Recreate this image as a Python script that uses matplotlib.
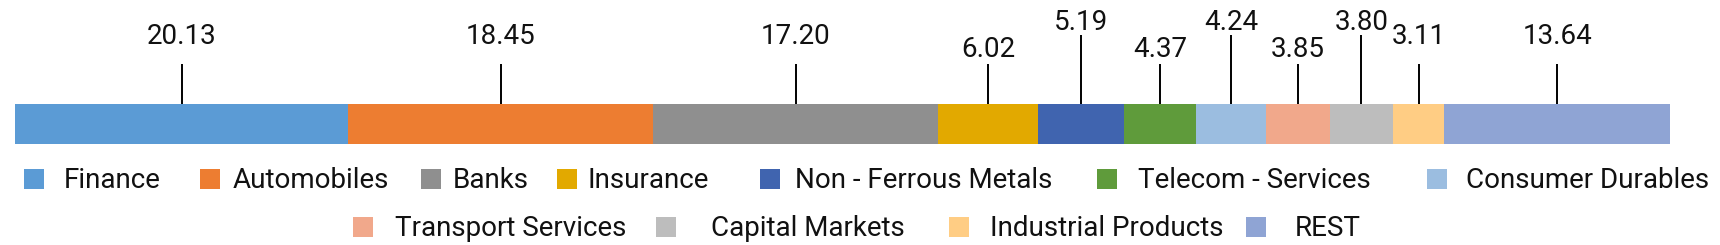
import matplotlib
matplotlib.use("Agg")
import matplotlib.pyplot as plt
from matplotlib.patches import Rectangle

# data
sectors = ["Finance", "Automobiles", "Banks", "Insurance", "Non - Ferrous Metals",
           "Telecom - Services", "Consumer Durables", "Transport Services",
           "Capital Markets", "Industrial Products", "REST"]
weights = [20.13, 18.45, 17.20, 6.02, 5.19, 4.37, 4.24, 3.85, 3.80, 3.11, 13.64]
colors = ["#5B9BD5", "#ED7D31", "#8F8F8F", "#E2A900", "#4064AF", "#5F9B3B",
          "#9BBDE0", "#F1A88B", "#BDBDBD", "#FFCD84", "#8FA4D4"]

# label tier per segment (0 low, 1 mid, 2 high), excel style staggering
tiers = [0, 0, 0, 1, 2, 1, 2, 1, 2, 0, 0]
tier_text_y = {0: 36, 1: 49, 2: 22}
tier_line_top = {0: 64, 1: 64, 2: 35}

# legend layout (pixel x of swatch, pixel x of text, row)
leg_layout = [(24, 64, 0), (200, 233, 0), (421, 453, 0), (557, 588, 0),
              (760, 795, 0), (1097, 1138, 0), (1427, 1466, 0),
              (353, 395, 1), (656, 711, 1), (949, 990, 1), (1246, 1295, 1)]
row_y = [179, 227]

plt.rcParams['font.family'] = ['Roboto', 'DejaVu Sans']

W, H = 1720, 245
fig = plt.figure(figsize=(W / 100, H / 100), dpi=100)

bar_l, bar_r = 15, 1670
ax = fig.add_axes([bar_l / W, 0, (bar_r - bar_l) / W, 1])
ax.set_xlim(0, sum(weights))
ax.set_ylim(H, 0)
ax.axis("off")

bar_top, bar_h = 104, 40
left = 0
for i in range(len(weights)):
    ax.barh(bar_top + bar_h / 2, weights[i], left=left, height=bar_h,
            color=colors[i], edgecolor="none")
    cx = left + weights[i] / 2
    t = tiers[i]
    ax.plot([cx, cx], [bar_top, tier_line_top[t]], color="black", lw=1.4,
            solid_capstyle="butt")
    ax.text(cx, tier_text_y[t], "%.2f" % weights[i], ha="center", va="center",
            fontsize=20, color="#111111")
    left += weights[i]

# legend drawn in pixel coords
lax = fig.add_axes([0, 0, 1, 1])
lax.set_xlim(0, W)
lax.set_ylim(H, 0)
lax.axis("off")
for i in range(len(sectors)):
    sx, tx, r = leg_layout[i]
    y = row_y[r]
    lax.add_patch(Rectangle((sx, y - 10), 20, 20, color=colors[i], lw=0))
    lax.text(tx, y + 1, sectors[i], ha="left", va="center", fontsize=20,
             color="#111111")

fig.savefig("out.png", dpi=100)
